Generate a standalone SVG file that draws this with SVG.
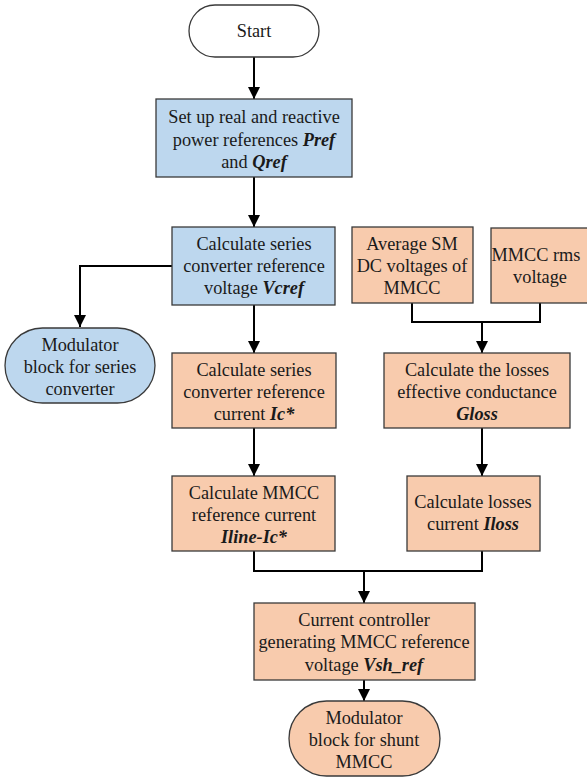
<svg xmlns="http://www.w3.org/2000/svg" width="587" height="778" viewBox="0 0 587 778">
<style>
.b{fill:#BDD7EE;stroke:#3a3a3a;stroke-width:1.3}
.o{fill:#F8CBAD;stroke:#3a3a3a;stroke-width:1.3}
.w{fill:#ffffff;stroke:#3a3a3a;stroke-width:1.3}
.c{fill:none;stroke:#000;stroke-width:2}
</style>
<defs>
<marker id="ah" markerUnits="userSpaceOnUse" markerWidth="14" markerHeight="14" refX="12" refY="6" orient="auto">
<path d="M0,0 L12,6 L0,12 Z" fill="#000"/>
</marker>
</defs>
<rect width="587" height="778" fill="#fff"/>
<g id="connectors">
<path class="c" d="M254,57 V99" marker-end="url(#ah)"/>
<path class="c" d="M254,177 V227" marker-end="url(#ah)"/>
<path class="c" d="M172,266 H80 V327" marker-end="url(#ah)"/>
<path class="c" d="M254,305 V353" marker-end="url(#ah)"/>
<path class="c" d="M254,428 V476" marker-end="url(#ah)"/>
<path class="c" d="M412,303 V322 H540 V303"/>
<path class="c" d="M482,322 V353" marker-end="url(#ah)"/>
<path class="c" d="M482,428 V476" marker-end="url(#ah)"/>
<path class="c" d="M254,551 V571 H482 V551"/>
<path class="c" d="M364,571 V603" marker-end="url(#ah)"/>
<path class="c" d="M364,680 V701" marker-end="url(#ah)"/>
</g>
<g font-family="Liberation Serif" font-size="18.3" text-anchor="middle" fill="#1a1a1a">
<g id="start">
<rect class="w" x="189" y="5" width="130" height="52" rx="26"/>
<text x="254" y="37">Start</text>
</g>
<g id="setup">
<rect class="b" x="156" y="99" width="196" height="78"/>
<text x="254" y="123">Set up real and reactive</text>
<text x="254" y="146">power references <tspan font-weight="bold" font-style="italic">Pref</tspan></text>
<text x="254" y="168">and <tspan font-weight="bold" font-style="italic">Qref</tspan></text>
</g>
<g id="vcref">
<rect class="b" x="172" y="227" width="163" height="78"/>
<text x="254" y="250">Calculate series</text>
<text x="254" y="272">converter reference</text>
<text x="254" y="294">voltage <tspan font-weight="bold" font-style="italic">Vcref</tspan></text>
</g>
<g id="modseries">
<rect class="b" x="5" y="328" width="150" height="75" rx="37.5"/>
<text x="80" y="351">Modulator</text>
<text x="80" y="373">block for series</text>
<text x="80" y="395">converter</text>
</g>
<g id="ic">
<rect class="o" x="172" y="353" width="164" height="75"/>
<text x="254" y="376">Calculate series</text>
<text x="254" y="398">converter reference</text>
<text x="254" y="420">current <tspan font-weight="bold" font-style="italic">Ic*</tspan></text>
</g>
<g id="avgsm">
<rect class="o" x="352" y="227" width="121" height="76"/>
<text x="412" y="250">Average SM</text>
<text x="412" y="272">DC voltages of</text>
<text x="412" y="294">MMCC</text>
</g>
<g id="mmccrms">
<rect class="o" x="491" y="228" width="98" height="75"/>
<text x="536" y="261">MMCC rms</text>
<text x="540" y="283">voltage</text>
</g>
<g id="gloss">
<rect class="o" x="384" y="353" width="186" height="75"/>
<text x="477" y="376">Calculate the losses</text>
<text x="477" y="398">effective conductance</text>
<text x="477" y="420" font-weight="bold" font-style="italic">Gloss</text>
</g>
<g id="iline">
<rect class="o" x="172" y="476" width="163" height="75"/>
<text x="254" y="499">Calculate MMCC</text>
<text x="254" y="521">reference current</text>
<text x="254" y="543" font-weight="bold" font-style="italic">Iline-Ic*</text>
</g>
<g id="iloss">
<rect class="o" x="407" y="476" width="133" height="75"/>
<text x="473" y="508">Calculate losses</text>
<text x="473" y="530">current <tspan font-weight="bold" font-style="italic">Iloss</tspan></text>
</g>
<g id="controller">
<rect class="o" x="254" y="603" width="221" height="77"/>
<text x="364" y="626">Current controller</text>
<text x="364" y="648">generating MMCC reference</text>
<text x="364" y="671">voltage <tspan font-weight="bold" font-style="italic">Vsh_ref</tspan></text>
</g>
<g id="modshunt">
<rect class="o" x="289" y="701" width="151" height="75" rx="37.5"/>
<text x="364" y="724">Modulator</text>
<text x="364" y="746">block for shunt</text>
<text x="364" y="768">MMCC</text>
</g>
</g>
</svg>
